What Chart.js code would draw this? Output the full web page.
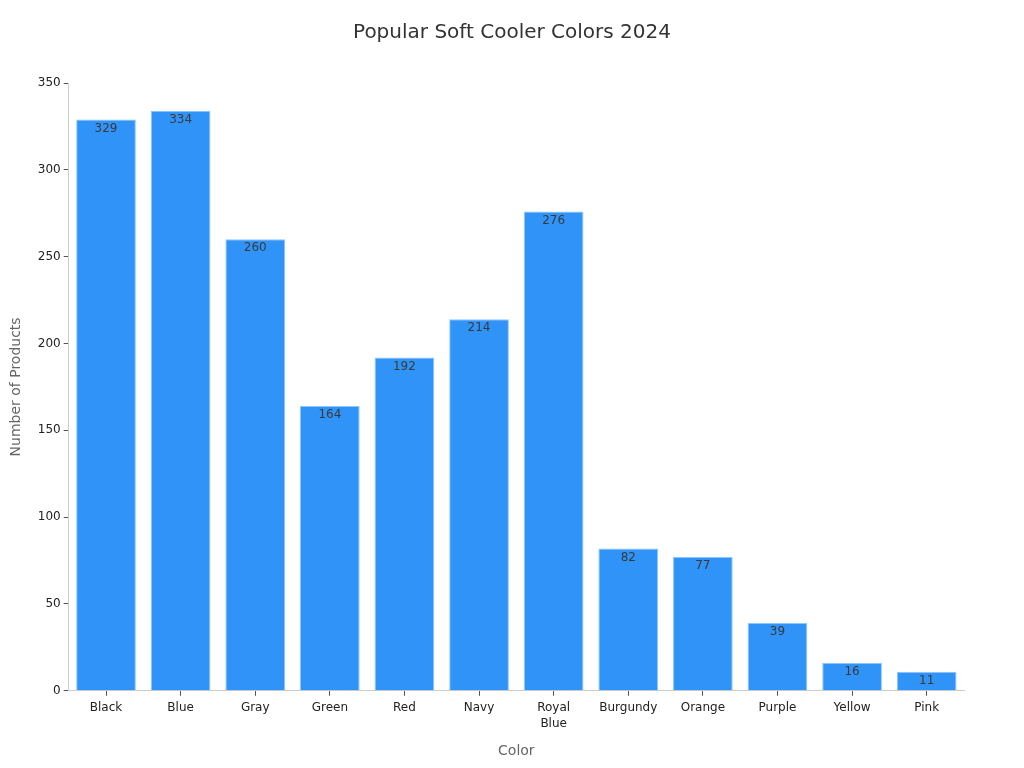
<!DOCTYPE html>
<html lang="en">
  <head>
    <meta charset="UTF-8" />
    <title>Popular Soft Cooler Colors 2024</title>
    <script src="https://cdn.jsdelivr.net/npm/chart.js"></script>
    <style>
      html, body { margin: 0; padding: 0; background: #fff; }
      #wrap { width: 1024px; height: 768px; }
    </style>
  </head>
  <body>
    <div id="wrap"><canvas id="chart"></canvas></div>
    <script>
      const chartTitle = "Popular Soft Cooler Colors 2024";
      const colors = ["Black", "Blue", "Gray", "Green", "Red", "Navy", ["Royal", "Blue"], "Burgundy", "Orange", "Purple", "Yellow", "Pink"];
      const productCounts = [329, 334, 260, 164, 192, 214, 276, 82, 77, 39, 16, 11];
      const yTicks = [0, 50, 100, 150, 200, 250, 300, 350];

      Chart.defaults.font.family = "'DejaVu Sans', sans-serif";

      // title centred on the whole canvas, not the padded box
      const pageTitle = {
        id: "pageTitle",
        afterDraw(chart) {
          const ctx = chart.ctx;
          ctx.save();
          ctx.font = "20px 'DejaVu Sans', sans-serif";
          ctx.fillStyle = "#333333";
          ctx.textAlign = "center";
          ctx.textBaseline = "middle";
          ctx.fillText(chartTitle, chart.width / 2, 33);
          ctx.restore();
        },
      };

      // draw the value just inside the top of each bar
      const barLabels = {
        id: "barLabels",
        afterDatasetsDraw(chart) {
          const ctx = chart.ctx;
          const meta = chart.getDatasetMeta(0);
          ctx.save();
          ctx.font = "12px 'DejaVu Sans', sans-serif";
          ctx.fillStyle = "#3a3a3a";
          ctx.textAlign = "center";
          ctx.textBaseline = "middle";
          meta.data.forEach((bar, i) => {
            ctx.fillText(productCounts[i], bar.x, bar.y + 9);
          });
          ctx.restore();
        },
      };

      new Chart(document.getElementById("chart"), {
        type: "bar",
        data: {
          labels: colors,
          datasets: [
            {
              label: "Number of Products",
              data: productCounts,
              backgroundColor: "#3093f8",
              borderColor: "#8cc6fb",
              borderWidth: 1,
              barPercentage: 0.8,
              categoryPercentage: 1.0,
            },
          ],
        },
        options: {
          responsive: true,
          maintainAspectRatio: false,
          animation: false,
          layout: { padding: { left: 4, right: 60, top: 83, bottom: 4 } },
          plugins: {
            legend: { display: false },
            tooltip: { enabled: false },
            title: { display: false },
          },
          scales: {
            x: {
              grid: { display: true, offset: false, drawOnChartArea: false, tickLength: 5, tickColor: "#555555" },
              border: { color: "#cccccc" },
              ticks: { color: "#222222", font: { size: 12, lineHeight: 1.35 }, maxRotation: 0, autoSkip: false, padding: 4 },
              title: { display: true, text: "Color", color: "#666666", font: { size: 14 }, padding: { top: 7 } },
            },
            y: {
              min: 0,
              max: 350,
              afterBuildTicks(axis) {
                axis.ticks = yTicks.map((v) => ({ value: v }));
              },
              grid: { display: true, drawOnChartArea: false, tickLength: 5, tickColor: "#555555" },
              border: { color: "#cccccc" },
              ticks: { color: "#222222", font: { size: 12 }, padding: 3 },
              title: { display: true, text: "Number of Products", color: "#666666", font: { size: 14 }, padding: { bottom: 10 } },
            },
          },
        },
        plugins: [barLabels, pageTitle],
      });
    </script>
  </body>
</html>
